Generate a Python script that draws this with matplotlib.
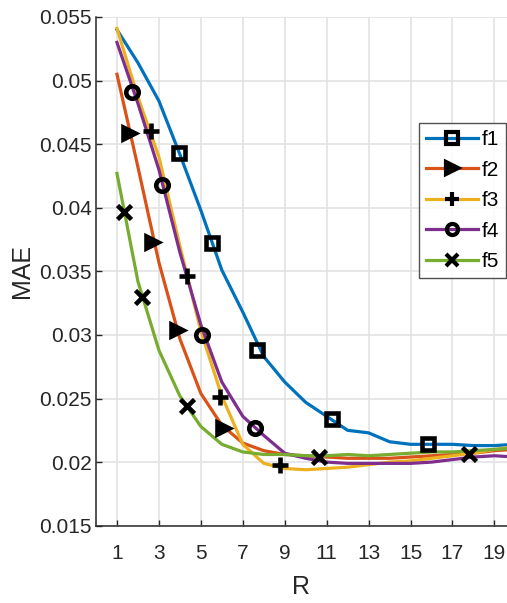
import numpy as np
import matplotlib.pyplot as plt
from matplotlib.lines import Line2D

plt.rcParams['font.family'] = ['Liberation Sans', 'DejaVu Sans']

### donnees
R = np.arange(1, 21)
f1 = [0.0540, 0.0514, 0.0484, 0.0442, 0.0398, 0.0351, 0.0318, 0.0283, 0.0263, 0.0247,
      0.0236, 0.0225, 0.0223, 0.0216, 0.0214, 0.0214, 0.0214, 0.0213, 0.0213, 0.0214]
f2 = [0.0505, 0.0432, 0.0357, 0.0297, 0.0254, 0.0229, 0.0215, 0.0209, 0.0206, 0.0205,
      0.0204, 0.0203, 0.0203, 0.0203, 0.0204, 0.0205, 0.0206, 0.0207, 0.0209, 0.0210]
f3 = [0.0541, 0.0487, 0.0440, 0.0370, 0.0303, 0.0252, 0.0214, 0.0199, 0.0195, 0.0194,
      0.0195, 0.0196, 0.0198, 0.0200, 0.0201, 0.0203, 0.0205, 0.0207, 0.0210, 0.0212]
f4 = [0.0530, 0.0482, 0.0430, 0.0365, 0.0308, 0.0263, 0.0236, 0.0221, 0.0207, 0.0203,
      0.0200, 0.0199, 0.0199, 0.0199, 0.0199, 0.0200, 0.0202, 0.0204, 0.0205, 0.0204]
f5 = [0.0427, 0.0342, 0.0288, 0.0252, 0.0228, 0.0214, 0.0208, 0.0206, 0.0206, 0.0205,
      0.0205, 0.0206, 0.0205, 0.0206, 0.0207, 0.0208, 0.0208, 0.0209, 0.0210, 0.0211]

# positions des marqueurs (x, y)
m1_x = [3.94, 5.53, 7.67, 11.25, 15.82]
m1_y = [0.0443, 0.0372, 0.0288, 0.0234, 0.0214]
m2_x = [1.55, 2.67, 3.86, 6.08]
m2_y = [0.0459, 0.0373, 0.0304, 0.0227]
m3_x = [2.62, 4.35, 5.92, 8.78]
m3_y = [0.0460, 0.0346, 0.0251, 0.0198]
m4_x = [1.71, 3.17, 5.05, 7.59]
m4_y = [0.0491, 0.0418, 0.0300, 0.0227]
m5_x = [1.35, 2.19, 4.32, 10.64, 17.79]
m5_y = [0.0397, 0.0330, 0.0244, 0.0204, 0.0206]

labels = ['f1', 'f2', 'f3', 'f4', 'f5']
couleurs = ['#0072BD', '#D95319', '#EDB120', '#7E2F8E', '#77AC30']
marqueurs = ['s', '>', '+', 'o', 'x']
tailles = [9, 9, 11, 9, 10]
courbes = [f1, f2, f3, f4, f5]
mx = [m1_x, m2_x, m3_x, m4_x, m5_x]
my = [m1_y, m2_y, m3_y, m4_y, m5_y]

fig = plt.figure(figsize=(5.07, 6.03), dpi=100)
ax = fig.add_axes([96/507, (603-525.7)/603, 411/507, 508.7/603])

handles = []
for y, c, m, t, xx, yy, lab in zip(courbes, couleurs, marqueurs, tailles, mx, my, labels):
    ax.plot(R, y, color=c, lw=2.3, zorder=2)
    plein = 'black' if m == '>' else 'none'
    ax.plot(xx, yy, ls='none', marker=m, ms=t, mew=3.3, mec='black', mfc=plein, zorder=3)
    handles.append(Line2D([], [], color=c, lw=2.3, marker=m, ms=t-1, mew=3,
                          mec='black', mfc=plein))

ax.set_xlim(0, 19.6)
ax.set_ylim(0.015, 0.055)
ax.set_xticks(np.arange(1, 20, 2))
ax.set_yticks([0.015, 0.02, 0.025, 0.03, 0.035, 0.04, 0.045, 0.05, 0.055])
ax.set_yticklabels(['0.015', '0.02', '0.025', '0.03', '0.035', '0.04', '0.045', '0.05', '0.055'])
ax.grid(True, color='#e3e3e3', lw=1.2)
ax.set_axisbelow(True)
ax.tick_params(direction='in', length=4, width=1, color='#262626', labelsize=15,
               labelcolor='#262626')
ax.tick_params(axis='x', pad=13)
ax.tick_params(axis='y', pad=3)
for s in ['top', 'right']:
    ax.spines[s].set_visible(False)
for s in ['left', 'bottom']:
    ax.spines[s].set_color('#262626')
    ax.spines[s].set_linewidth(1.1)

ax.set_xlabel('R', fontsize=18, color='#262626', labelpad=9)
ax.set_ylabel('MAE', fontsize=18, color='#262626', labelpad=4)

leg = ax.legend(handles, labels, loc='upper right', bbox_to_anchor=(506/507, 1-123/603),
                bbox_transform=fig.transFigure, fontsize=15, frameon=True, fancybox=False,
                borderaxespad=0, handlelength=2.5, handletextpad=0.15, labelspacing=0.55,
                borderpad=0.35)
leg.get_frame().set_edgecolor('#262626')
leg.get_frame().set_linewidth(1)

plt.savefig('out.png', dpi=100)
